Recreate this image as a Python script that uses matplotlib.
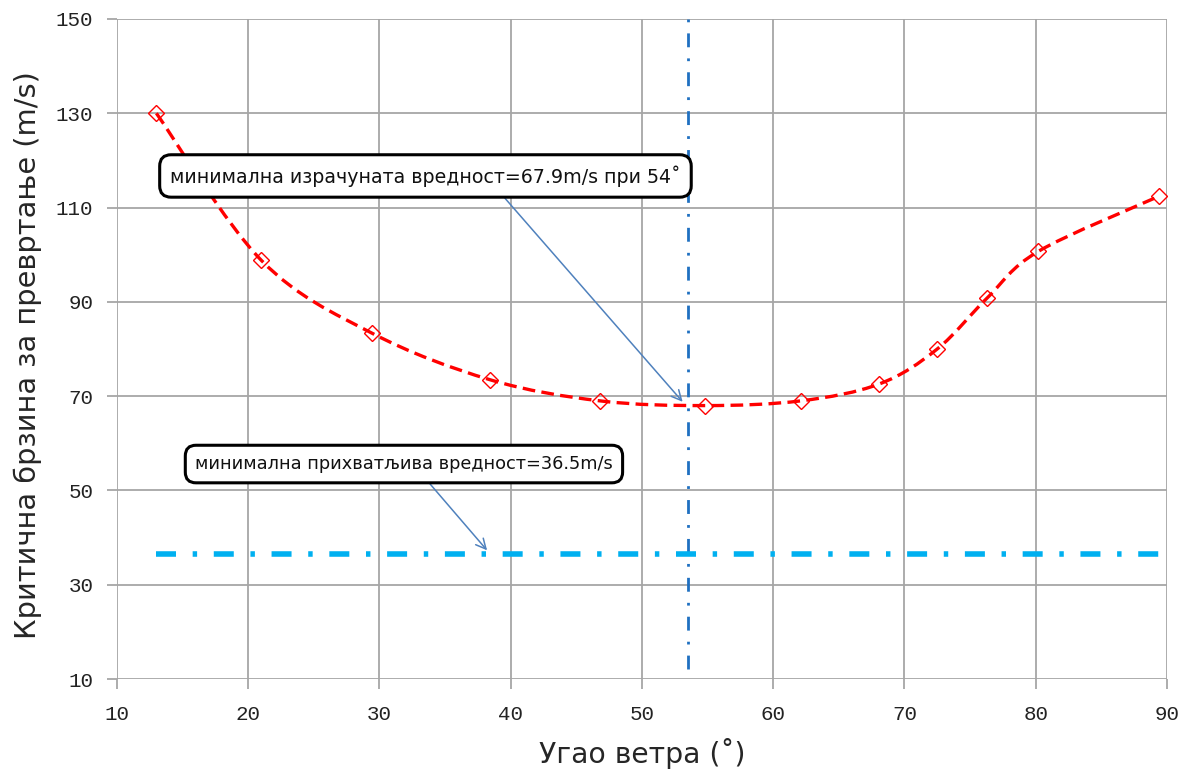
import numpy as np
import matplotlib
matplotlib.use("Agg")
import matplotlib.pyplot as plt
from matplotlib.path import Path
from matplotlib.patches import PathPatch

# Data
angles = [13.0, 21.0, 29.4, 38.4, 46.8, 54.8, 62.1, 68.1, 72.5, 76.3, 80.2, 89.4]
speeds = [130.0, 98.8, 83.4, 73.5, 69.0, 68.0, 69.0, 72.6, 80.0, 90.8, 100.7, 112.4]
min_angle = 53.5
acceptable = 36.5
x_ticks = [10, 20, 30, 40, 50, 60, 70, 80, 90]
y_ticks = [10, 30, 50, 70, 90, 110, 130, 150]
xlabel = "Угао ветра (˚)"
ylabel = "Критична брзина за превртање (m/s)"
note1 = "минимална израчуната вредност=67.9m/s при 54˚"
note2 = "минимална прихватљива вредност=36.5m/s"

fig = plt.figure(figsize=(11.89, 7.74), dpi=100)
ax = fig.add_axes([0.0984, 0.1227, 0.883, 0.8528])
ax.set_xlim(10, 90)
ax.set_ylim(10, 150)
ax.set_xticks(x_ticks)
ax.set_yticks(y_ticks)
for s in ax.spines.values():
    s.set_visible(False)
ax.grid(True, color="#A6A6A6", lw=1.3)
ax.set_axisbelow(True)
ax.tick_params(length=7, color="#A6A6A6", width=1.3, labelsize=15,
               labelcolor="#222222")
ax.tick_params(axis="x", pad=12)
ax.tick_params(axis="y", pad=10)
for lab in ax.get_xticklabels() + ax.get_yticklabels():
    lab.set_family("Liberation Mono")

# Smoothed (Excel-like) curve via Bezier control points from data
x = np.array(angles); y = np.array(speeds)
n = len(x)
verts = [(x[0], y[0])]
codes = [Path.MOVETO]
t = 1.0 / 6.0
for i in range(n - 1):
    p0 = np.array([x[max(i - 1, 0)], y[max(i - 1, 0)]])
    p1 = np.array([x[i], y[i]])
    p2 = np.array([x[i + 1], y[i + 1]])
    p3 = np.array([x[min(i + 2, n - 1)], y[min(i + 2, n - 1)]])
    c1 = p1 + (p2 - p0) * t
    c2 = p2 - (p3 - p1) * t
    verts += [tuple(c1), tuple(c2), tuple(p2)]
    codes += [Path.CURVE4] * 3
path = Path(verts, codes)
ax.add_patch(PathPatch(path, fill=False, edgecolor="#FF0000", lw=2.4,
                       linestyle=(0, (3.8, 1.9)), zorder=3))
ax.plot(angles, speeds, linestyle="none", marker="D", markersize=8,
        markerfacecolor="none", markeredgecolor="#FF0000", mew=1.0, zorder=4)

# Reference lines
ax.plot([min_angle, min_angle], [150, 10], color="#1F70C1", lw=2.0,
        linestyle=(0, (1, 4, 5, 4)), zorder=3, clip_on=False)
ax.plot([13, 90], [acceptable, acceptable], color="#00B0F0", lw=4.0,
        linestyle=(0, (3.6, 3.0, 0.8, 3.0)), zorder=3, clip_on=False)

# Annotations
bbox = dict(boxstyle="round,pad=0.55,rounding_size=0.6", fc="white",
            ec="black", lw=2.2)
ax.annotate(note1, xy=(53.1, 68.8), xytext=(14.05, 116.7), textcoords="data",
            ha="left", va="center", fontsize=13.7, color="#111111", bbox=bbox,
            family="DejaVu Sans", zorder=6,
            arrowprops=dict(arrowstyle="->", color="#4F81BD", lw=1.1,
                            shrinkA=0, shrinkB=0, relpos=(0.636, 0.0),
                            mutation_scale=18))
ax.annotate(note2, xy=(38.2, 37.3), xytext=(15.95, 55.6), textcoords="data",
            ha="left", va="center", fontsize=12.8, color="#111111", bbox=bbox,
            family="DejaVu Sans", zorder=6,
            arrowprops=dict(arrowstyle="->", color="#4F81BD", lw=1.1,
                            shrinkA=0, shrinkB=0, relpos=(0.54, 0.0),
                            mutation_scale=18))

ax.set_xlabel(xlabel, fontsize=20.3, color="#262626")
ax.set_ylabel(ylabel, fontsize=20.8, color="#262626")
ax.xaxis.set_label_coords(0.5, -0.089)
ax.yaxis.set_label_coords(-0.0714, 0.491)

fig.savefig("out.png", dpi=100)
